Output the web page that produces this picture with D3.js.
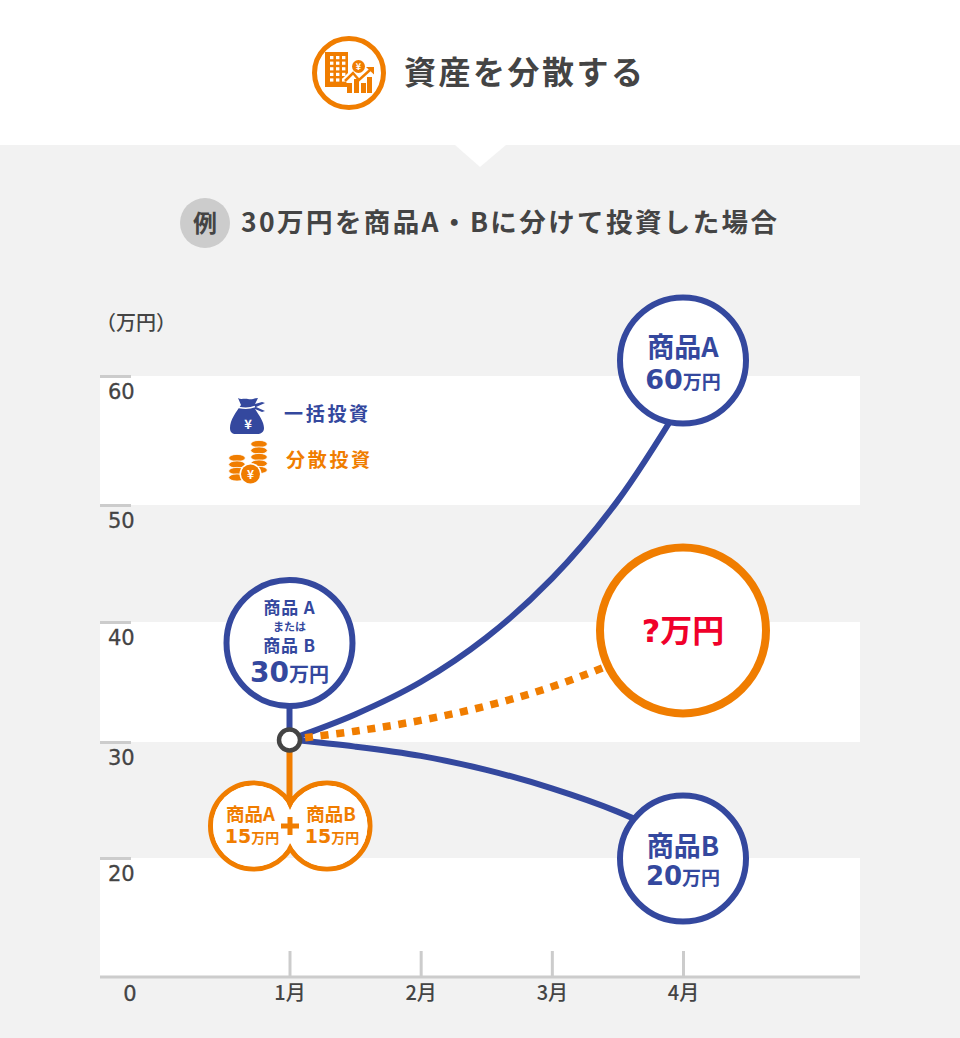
<!DOCTYPE html>
<html>
<head>
<meta charset="utf-8">
<script src="https://cdn.jsdelivr.net/npm/d3@7"></script>
<style>
html, body { margin: 0; padding: 0; background: #fff; }
svg { display: block; }
text { font-family: "Noto Sans CJK JP", sans-serif; font-weight: 700; }
</style>
</head>
<body>
<div id="chart"></div>
<script>
var months = [1, 2, 3, 4];
var monthLabels = ["1月", "2月", "3月", "4月"];
var yTicks = [60, 50, 40, 30, 20];
var lineMonths = [1, 1.5, 2, 2.5, 3, 3.5, 4];
var lumpA = [30.2, 32.3, 35, 38.7, 43.7, 50.3, 58.1];
var lumpB = [30.2, 29.6, 28.8, 27.6, 26, 24, 21.4];
var spread = [30.2, 30.9, 31.8, 33, 34.6, 36.7, 39.3];
var bandsFrom = [50, 30, 0];
var bandsTo = [60, 40, 20];

var blue = "#34489e", orange = "#f07d00", dark = "#444", grey = "#ccc";
var wide = '"DejaVu Sans", sans-serif';

var svg = d3.select("#chart").append("svg").attr("width", 960).attr("height", 1038);

// the y axis is not even, 0 to 20 takes the same room as 20 to 30
var x = d3.scaleLinear().domain([1, 4]).range([289.5, 683]);
var y = d3.scaleLinear()
  .domain([0, 20, 30, 40, 50, 60])
  .range([977, 858, 742, 622, 505, 376]);

svg.append("rect").attr("y", 145).attr("width", 960).attr("height", 893).attr("fill", "#f2f2f2");
svg.append("path").attr("d", "M455,145L480,167L506,145Z").attr("fill", "#fff");

// heading
function buildingIcon(g) {
  g.append("circle").attr("cx", 349).attr("cy", 73).attr("r", 34.5)
    .attr("fill", "#fff").attr("stroke", orange).attr("stroke-width", 5);
  g.append("rect").attr("x", 325).attr("y", 52).attr("width", 4).attr("height", 35).attr("fill", orange);
  g.append("rect").attr("x", 325).attr("y", 84).attr("width", 24).attr("height", 3).attr("fill", orange);
  g.append("rect").attr("x", 328).attr("y", 52).attr("width", 20).attr("height", 32).attr("fill", orange);
  d3.range(3).forEach(function(c) {
    d3.range(5).forEach(function(r) {
      g.append("rect").attr("x", 330 + c * 6).attr("y", 56 + r * 5.6)
        .attr("width", 3.4).attr("height", 3.2).attr("fill", "#fff");
    });
  });
  g.append("path").attr("fill", "none").attr("stroke", "#fff").attr("stroke-width", 7)
    .attr("d", "M345,81L353,73L359,80L372,69");
  [[347, 83], [354, 79], [361, 83], [367, 77]].forEach(function(b) {
    g.append("rect").attr("x", b[0]).attr("y", b[1]).attr("width", 5).attr("height", 93 - b[1]).attr("fill", orange);
  });
  g.append("path").attr("fill", "none").attr("stroke", orange).attr("stroke-width", 2.5)
    .attr("d", "M345,81L353,73L359,80L370,70");
  g.append("path").attr("fill", orange).attr("d", "M366,67h8v7.5z");
  g.append("circle").attr("cx", 358.5).attr("cy", 66.5).attr("r", 6.5).attr("fill", orange);
  g.append("text").attr("x", 358.5).attr("y", 70).attr("text-anchor", "middle")
    .attr("font-size", 9).attr("fill", "#fff").text("¥");
}
buildingIcon(svg.append("g"));

svg.append("text").attr("x", 404).attr("y", 84).attr("font-size", 32).attr("letter-spacing", 2.5)
  .attr("fill", dark).text("資産を分散する");

svg.append("circle").attr("cx", 205).attr("cy", 223).attr("r", 25).attr("fill", grey);
svg.append("text").attr("x", 205).attr("y", 232).attr("text-anchor", "middle").attr("font-size", 24)
  .attr("fill", dark).text("例");
svg.append("text").attr("x", 241).attr("y", 232).attr("font-size", 26.5).attr("fill", dark)
  .attr("textLength", 536).attr("lengthAdjust", "spacing")
  .text("30万円を商品A・Bに分けて投資した場合");

// white bands
svg.selectAll(".band").data(bandsFrom).enter().append("rect").attr("class", "band")
  .attr("x", 100).attr("width", 760)
  .attr("y", function(d, i) { return y(bandsTo[i]); })
  .attr("height", function(d, i) { return y(d) - y(bandsTo[i]); })
  .attr("fill", "#fff");

// axes
var yAxis = svg.append("g").attr("transform", "translate(100,0)")
  .call(d3.axisRight(y).tickValues(yTicks).tickSize(31));
yAxis.select(".domain").remove();
yAxis.selectAll("line").attr("stroke", grey).attr("stroke-width", 3);
yAxis.selectAll("text").attr("x", 8).attr("dy", 22).attr("text-anchor", "start")
  .attr("font-size", 21).attr("fill", dark).attr("stroke", dark).attr("stroke-width", 0.3)
  .style("font-family", wide).style("font-weight", 400);

var xAxis = svg.append("g").attr("transform", "translate(0,977)")
  .call(d3.axisTop(x).tickValues(months).tickSize(26).tickFormat(function(d, i) { return monthLabels[i]; }));
xAxis.select(".domain").remove();
xAxis.selectAll("line").attr("stroke", grey).attr("stroke-width", 3);
xAxis.selectAll("text").attr("y", 23).attr("dy", 0).attr("font-size", 20).attr("fill", dark)
  .style("font-weight", 500);

svg.append("line").attr("x1", 100).attr("x2", 860).attr("y1", 977).attr("y2", 977)
  .attr("stroke", grey).attr("stroke-width", 3);
svg.append("text").attr("x", 130).attr("y", 1001).attr("text-anchor", "middle")
  .attr("font-size", 21).attr("fill", dark).attr("stroke", dark).attr("stroke-width", 0.3)
  .style("font-family", wide).style("font-weight", 400).text("0");
svg.append("text").attr("x", 136).attr("y", 330).attr("text-anchor", "middle")
  .attr("font-size", 20).attr("fill", dark).style("font-weight", 500).text("（万円）");

// series lines
var line = d3.line()
  .x(function(d, i) { return x(lineMonths[i]); })
  .y(function(d) { return y(d); })
  .curve(d3.curveCatmullRom.alpha(0.5));

svg.append("path").attr("d", line(lumpA)).attr("fill", "none").attr("stroke", blue).attr("stroke-width", 6);
svg.append("path").attr("d", line(lumpB)).attr("fill", "none").attr("stroke", blue).attr("stroke-width", 6);
svg.append("path").attr("d", line(spread)).attr("fill", "none").attr("stroke", orange)
  .attr("stroke-width", 7.5).attr("stroke-dasharray", "8 7.7");

// stems from the start node
svg.append("line").attr("x1", x(1)).attr("x2", x(1)).attr("y1", 700).attr("y2", 740)
  .attr("stroke", blue).attr("stroke-width", 6);
svg.append("line").attr("x1", x(1)).attr("x2", x(1)).attr("y1", 740).attr("y2", 806)
  .attr("stroke", orange).attr("stroke-width", 6);

function bubble(cx, cy, r, sw, color) {
  svg.append("circle").attr("cx", cx).attr("cy", cy).attr("r", r)
    .attr("fill", "#fff").attr("stroke", color).attr("stroke-width", sw);
}

function label(cx, baseline, color, runs, spacing) {
  var t = svg.append("text").attr("x", cx).attr("y", baseline).attr("text-anchor", "middle").attr("fill", color);
  if (spacing) t.attr("letter-spacing", spacing);
  runs.forEach(function(r) {
    var s = t.append("tspan").attr("font-size", r[1]).text(r[0]);
    if (r[2]) s.style("font-family", wide);
  });
}

// result bubbles
bubble(x(4), y(61.2), 63, 6, blue);
label(x(4), 357, blue, [["商品A", 27]]);
label(x(4), 389, blue, [["60", 27, true], ["万円", 19]]);

bubble(x(4), y(39.3), 83, 8, orange);
label(x(4), 642, "#f0002a", [["?", 32, true], ["万円", 32]]);

bubble(x(4), y(19.9), 63, 6, blue);
label(x(4), 856, blue, [["商品B", 27]]);
label(x(4), 885, blue, [["20", 26, true], ["万円", 19]]);

// start bubble
bubble(x(1), 643, 63, 6, blue);
label(x(1), 613.5, blue, [["商品 A", 17]], 0.8);
label(x(1), 630.5, blue, [["または", 11]]);
label(x(1), 652, blue, [["商品 B", 17]], 0.8);
label(x(1), 682, blue, [["30", 28, true], ["万円", 20]]);

// two joined orange circles, split 15 + 15
bubble(253.5, 826, 43, 5, orange);
bubble(327, 826, 43, 5, orange);
svg.append("circle").attr("cx", 253.5).attr("cy", 826).attr("r", 40.5).attr("fill", "#fff");
svg.append("circle").attr("cx", 327).attr("cy", 826).attr("r", 40.5).attr("fill", "#fff");
svg.append("path").attr("fill", orange).attr("d", "M287.5,817h5v6.5h6.5v5h-6.5v6.5h-5v-6.5h-6.5v-5h6.5z");
svg.append("path").attr("fill", orange).attr("d", "M286.5,796h7v6l-3.5,8l-3.5,-8z");
label(250.5, 821, orange, [["商品A", 18.5]]);
label(252, 843, orange, [["15", 19, true], ["万円", 14]]);
label(331, 821, orange, [["商品B", 18.5]]);
label(332, 843, orange, [["15", 19, true], ["万円", 14]]);

// start node
svg.append("circle").attr("cx", x(1)).attr("cy", 740).attr("r", 10.5)
  .attr("fill", "#fff").attr("stroke", dark).attr("stroke-width", 4.5);

// legend icons
var bag = svg.append("g");
bag.append("path").attr("fill", blue)
  .attr("d", "M238,398c3,2 6,0 10,1c4,1 6,-1 10,-1l-3,6l7,-2l3,1l-9,4l9,4l-3,1l-7,-3c4,6 9,13 9,19c0,4 -3,6 -7,6h-21c-4,0 -6,-2 -6,-6c0,-8 6,-16 11,-23z");
bag.append("path").attr("fill", "none").attr("stroke", "#fff").attr("stroke-width", 1.5)
  .attr("d", "M239,407.5c5,1 11,1 16,-1");
svg.append("text").attr("x", 248).attr("y", 429).attr("text-anchor", "middle").attr("font-size", 13)
  .attr("fill", "#fff").text("¥");

var coinRows = [[259, 444], [259, 450.5], [259, 457], [259, 463.5], [259, 470], [237, 458], [237, 464.5], [237, 471], [237, 477.5]];
svg.selectAll(".coin").data(coinRows).enter().append("ellipse").attr("class", "coin")
  .attr("cx", function(d) { return d[0]; })
  .attr("cy", function(d) { return d[1]; })
  .attr("rx", 8.3).attr("ry", 3.6)
  .attr("fill", orange)
  .attr("stroke", "#fff").attr("stroke-width", 0.8);
svg.append("circle").attr("cx", 250.5).attr("cy", 474).attr("r", 11).attr("fill", "#fff");
svg.append("circle").attr("cx", 250.5).attr("cy", 474).attr("r", 9.5).attr("fill", orange);
svg.append("text").attr("x", 250.5).attr("y", 478.5).attr("text-anchor", "middle").attr("font-size", 12)
  .attr("fill", "#fff").text("¥");

svg.append("text").attr("x", 284).attr("y", 421).attr("font-size", 19).attr("letter-spacing", 2.7)
  .attr("fill", blue).text("一括投資");
svg.append("text").attr("x", 286).attr("y", 467).attr("font-size", 19).attr("letter-spacing", 2.7)
  .attr("fill", orange).text("分散投資");
</script>
</body>
</html>
